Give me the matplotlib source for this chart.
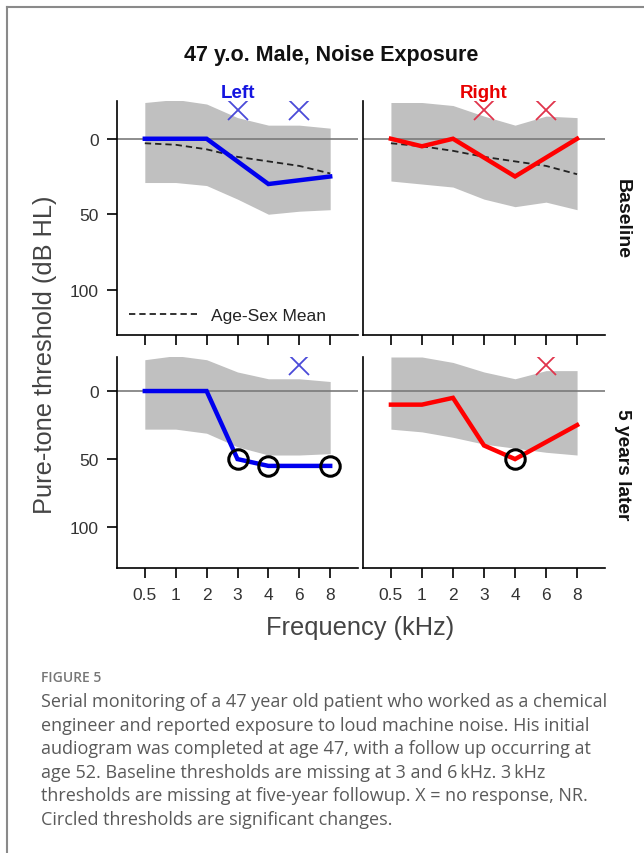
import numpy as np
import matplotlib
matplotlib.use('Agg')
import matplotlib.pyplot as plt
from matplotlib.lines import Line2D

plt.rcParams['font.family'] = ['Liberation Sans', 'DejaVu Sans']

nan = np.nan
freqs = ['0.5', '1', '2', '3', '4', '6', '8']

# thresholds (dB HL), nan = missing
left_base = [0, 0, 0, nan, 30, nan, 25]
right_base = [0, 5, 0, nan, 25, nan, 0]
left_later = [0, 0, 0, 50, 55, nan, 55]
right_later = [10, 10, 5, 40, 50, nan, 25]

# no response (X) and significant change (circle) frequencies
nr_left_base = ['3', '6']
nr_right_base = ['3', '6']
nr_left_later = ['6']
nr_right_later = ['6']
sig_left_later = ['3', '4', '8']
sig_right_later = ['4']
nr_level = -19

# normal range band (upper / lower edge)
band_ul_top = [-24, -26, -23, -14, -9, -9, -7]
band_ul_bot = [29, 29, 31, 40, 50, 48, 47]
band_ur_top = [-24, -24, -22, -15, -9, -15, -14]
band_ur_bot = [28, 30, 32, 40, 45, 42, 47]
band_ll_top = [-23, -26, -23, -14, -9, -9, -7]
band_ll_bot = [28, 28, 31, 41, 47, 47, 46]
band_lr_top = [-25, -25, -21, -14, -9, -15, -15]
band_lr_bot = [28, 30, 34, 39, 42, 45, 47]

# age-sex mean
mean_left = [3, 4, 7, 12, 15, 18, 23]
mean_right = [3, 5, 8, 12, 15, 18, 23.5]

W, H = 644, 854
fig = plt.figure(figsize=(W / 100, H / 100), dpi=100)


def px_axes(x0, y0, x1, y1):
    return fig.add_axes([x0 / W, 1 - y1 / H, (x1 - x0) / W, (y1 - y0) / H])


def panel(ax, vals, top, bot, line_color, x_color, nr, sig, mean=None, ylabels=True):
    x = np.arange(len(freqs))
    ax.fill_between(x, top, bot, color='#c0c0c0', lw=0, zorder=1)
    ax.axhline(0, color='#7a7a7a', lw=1.2, zorder=2)
    if mean is not None:
        ax.plot(x, mean, color='#222222', lw=1.3, dashes=(3.5, 2.2), zorder=3,
                label='Age-Sex Mean')
    v = np.array(vals, dtype=float)
    ok = ~np.isnan(v)
    ax.plot(x[ok], v[ok], color=line_color, lw=3.2, solid_joinstyle='miter', zorder=4)
    for f in nr:
        ax.plot(freqs.index(f), nr_level, marker='x', ms=15, mew=1.3,
                color=x_color, zorder=5)
    for f in sig:
        i = freqs.index(f)
        ax.plot(i, v[i], marker='o', ms=14, mfc='none', mec='black', mew=2.2, zorder=6)
    ax.set_xlim(-0.9, 6.9)
    ax.set_ylim(130, -25)
    ax.set_xticks(x)
    ax.set_xticklabels(freqs)
    ax.set_yticks([0, 50, 100])
    for s in ['top', 'right']:
        ax.spines[s].set_visible(False)
    for s in ['left', 'bottom']:
        ax.spines[s].set_linewidth(1.2)
    ax.tick_params(axis='x', length=7, width=1.2, pad=7, labelsize=12.5, labelcolor='#333333')
    ax.tick_params(axis='y', length=7, width=1.2, pad=6, labelsize=12.5, labelcolor='#333333')
    if not ylabels:
        ax.tick_params(axis='y', left=False, labelleft=False)


ax_ul = px_axes(117, 102, 358, 336)
ax_ur = px_axes(363, 102, 605, 336)
ax_ll = px_axes(117, 358, 358, 569)
ax_lr = px_axes(363, 358, 605, 569)

panel(ax_ul, left_base, band_ul_top, band_ul_bot, '#0000ee', '#4a4ad8',
      nr_left_base, [], mean=mean_left)
panel(ax_ur, right_base, band_ur_top, band_ur_bot, '#ff0000', '#e0344c',
      nr_right_base, [], mean=mean_right, ylabels=False)
panel(ax_ll, left_later, band_ll_top, band_ll_bot, '#0000ee', '#4a4ad8',
      nr_left_later, sig_left_later)
panel(ax_lr, right_later, band_lr_top, band_lr_bot, '#ff0000', '#e0344c',
      nr_right_later, sig_right_later, ylabels=False)

for ax in (ax_ul, ax_ur):
    ax.tick_params(axis='x', labelbottom=False)

ax_ul.legend(loc='lower left', bbox_to_anchor=(0.0, 0.0), frameon=False,
             handlelength=3.9, handletextpad=0.8, fontsize=12.5, borderaxespad=0.3,
             labelcolor='#222222')

ax_ul.set_title('Left', color='#1414e0', fontweight='bold', fontsize=13.5, pad=3)
ax_ur.set_title('Right', color='#e80000', fontweight='bold', fontsize=13.5, pad=3)

fig.text(331 / W, 1 - 55 / H, '47 y.o. Male, Noise Exposure', ha='center', va='center',
         fontsize=15.5, fontweight='bold', color='#111111')
fig.text(622 / W, 1 - 219 / H, 'Baseline', rotation=-90, ha='center', va='center',
         fontsize=14, fontweight='bold', color='#111111')
fig.text(622 / W, 1 - 465 / H, '5 years later', rotation=-90, ha='center', va='center',
         fontsize=13.8, fontweight='bold', color='#111111')
fig.text(45 / W, 1 - 355 / H, 'Pure-tone threshold (dB HL)', rotation=90, ha='center',
         va='center', fontsize=18.3, color='#444444')
fig.text(360 / W, 1 - 628 / H, 'Frequency (kHz)', ha='center', va='center',
         fontsize=18.3, color='#444444')

# caption
fig.text(41 / W, 1 - 678 / H, 'FIGURE 5', ha='left', va='center', fontsize=10,
         color='#777777', family=['Open Sans', 'DejaVu Sans'], fontweight='semibold')
caption = [
    'Serial monitoring of a 47 year old patient who worked as a chemical',
    'engineer and reported exposure to loud machine noise. His initial',
    'audiogram was completed at age 47, with a follow up occurring at',
    'age 52. Baseline thresholds are missing at 3 and 6\u2009kHz. 3\u2009kHz',
    'thresholds are missing at five-year followup. X = no response, NR.',
    'Circled thresholds are significant changes.',
]
for k, line in enumerate(caption):
    fig.text(41 / W, 1 - (702 + 23.6 * k) / H, line, ha='left', va='center',
             fontsize=13.0, color='#5a5a5a', family=['Open Sans', 'DejaVu Sans'])

# frame lines
fig.add_artist(Line2D([7 / W, 7 / W], [0, 1 - 8 / H], color='#8a8a8a', lw=1.5))
fig.add_artist(Line2D([7 / W, 1], [1 - 8 / H, 1 - 8 / H], color='#8a8a8a', lw=1.5))

fig.savefig('out.png', dpi=100)
